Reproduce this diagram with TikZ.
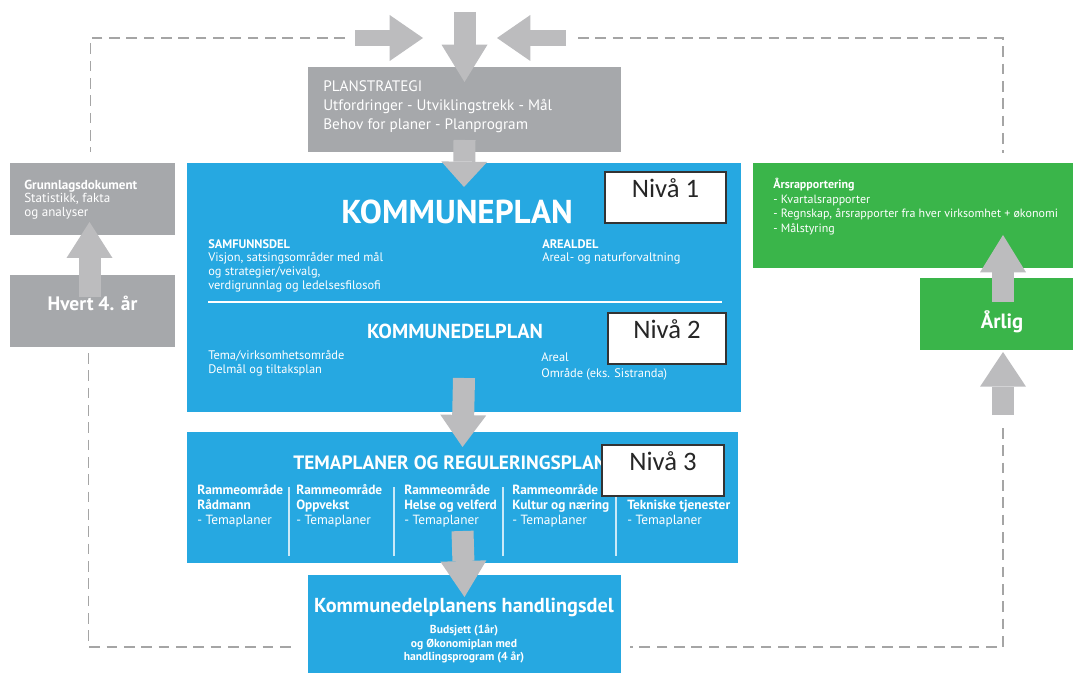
\documentclass[tikz,border=0pt]{standalone}
\usepackage{fontspec}
\setmainfont{PT Sans}
\newfontfamily\nivafont{Carlito}
\usepackage{tikz}
\usetikzlibrary{arrows.meta,calc,fit}
\definecolor{kblue}{RGB}{38,168,225}
\definecolor{kgray}{RGB}{166,168,171}
\definecolor{agray}{RGB}{188,188,190}
\definecolor{kgreen}{RGB}{58,181,74}
\definecolor{lgray}{RGB}{165,165,165}
\tikzset{
  blokk/.style={inner sep=0pt, outer sep=0pt},
  tekst/.style={inner sep=0pt, text=white, align=left, font=\fontsize{9.3}{10.3}\selectfont},
  niva/.style={draw=black!80, line width=1.1pt, fill=white, inner sep=0pt, text=black!85, font=\nivafont\fontsize{20}{22}\selectfont},
  garrow/.style={draw=agray, line width=16.5pt, -{Triangle[width=34.5pt 0 0, length=#1 0 0, line width=0pt 0 0]}},
  garrow/.default=26pt,
  tynnpil/.style={draw=agray, line width=12pt, -{Triangle[width=34.5pt 0 0, length=25pt 0 0, line width=0pt 0 0]}},
  retur/.style={draw=lgray, line width=1.1pt, dash pattern=on 8pt off 5pt},
}
\begin{document}
\begin{tikzpicture}[x=0.75pt,y=-0.75pt]
  \useasboundingbox (0,0) rectangle (1073,673);
  % bokser
  \node[blokk, fill=kgray, fit={(308,67) (621,152)}] (ps) {};
  \node[blokk, fill=kblue, fit={(187,163) (741,412)}] (kp) {};
  \node[blokk, fill=kblue, fit={(187,432) (738,563)}] (tp) {};
  \node[blokk, fill=kblue, fit={(308,575) (621,690)}] (hd) {};
  \node[blokk, fill=kgray, fit={(10,163) (175,235)}] (gd) {};
  \node[blokk, fill=kgray, fit={(10,275) (175,347)}, text=white, font=\bfseries\fontsize{14.6}{16}\selectfont] (h4) {Hvert 4. år};
  \node[blokk, fill=kgreen, fit={(753,163) (1090,268)}] (ar) {};
  \node[blokk, fill=kgreen, fit={(920,278) (1086,350)}] (arlig) {};

  % tekst
  \node[tekst, anchor=north west, font=\fontsize{11.4}{14.3}\selectfont] (ps-tekst) at (323,80) {PLANSTRATEGI\\Utfordringer - Utviklingstrekk - Mål\\Behov for planer - Planprogram};
  \node[tekst, anchor=north west, font=\fontsize{9.8}{10}\selectfont] (gd-tekst) at (24,180) {\textbf{Grunnlagsdokument}\\Statistikk, fakta\\og analyser};
  \node[tekst, anchor=north west, font=\fontsize{9}{11}\selectfont] (ar-tekst) at (773,178) {\textbf{Årsrapportering}\\- Kvartalsrapporter\\- Regnskap, årsrapporter fra hver virksomhet + økonomi\\- Målstyring};
  \node[tekst, font=\bfseries\fontsize{15.5}{17}\selectfont] (arlig-tekst) at (1002,322) {Årlig};

  \node[tekst, font=\bfseries\fontsize{24.8}{27}\selectfont] (kp-tittel) at (457,212) {KOMMUNEPLAN};
  \node[tekst, anchor=north west] (samf) at (208,239) {\textbf{SAMFUNNSDEL}\\Visjon, satsingsområder med mål\\og strategier/veivalg,\\verdigrunnlag og ledelsesfilosofi};
  \node[tekst, anchor=north west] (areal) at (542,239) {\textbf{AREALDEL}\\Areal- og naturforvaltning};
  \draw[white, line width=1.5pt] (208,302) -- (722,302);
  \node[tekst, font=\bfseries\fontsize{15.2}{17}\selectfont] (kdp-tittel) at (455,331) {KOMMUNEDELPLAN};
  \node[tekst, anchor=north west] (tema) at (208,350) {Tema/virksomhetsområde\\Delmål og tiltaksplan};
  \node[tekst, anchor=north west, font=\fontsize{9.3}{12.5}\selectfont] (omr) at (541,352) {Areal\\Område (eks. Sistranda)};

  \node[tekst, anchor=west, font=\bfseries\fontsize{14.5}{16}\selectfont] (tp-tittel) at (293,463) {TEMAPLANER OG REGULERINGSPLAN};
  \foreach \x/\navn in {197/Rådmann, 296/Oppvekst, 404/Helse og velferd, 512/Kultur og næring, 627/Tekniske tjenester}
    \node[tekst, anchor=north west, font=\fontsize{10}{11.25}\selectfont] (ramme-\x) at (\x,484) {\textbf{Rammeområde}\\\textbf{\navn}\\- Temaplaner};
  \foreach \x in {289,394,503,616}
    \draw[white!75!kblue, line width=0.8pt] (\x,487) -- (\x,556);

  \node[tekst, font=\bfseries\fontsize{15.2}{17}\selectfont] (hd-tittel) at (464,607) {Kommunedelplanens handlingsdel};
  \node[tekst, anchor=north, align=center, font=\bfseries\fontsize{8.7}{10}\selectfont] (hd-tekst) at (464,625) {Budsjett (1år)\\og Økonomiplan med\\handlingsprogram (4 år)};

  % piler
  \coordinate (inn-v) at (355,38);
  \coordinate (spiss-v) at (423,38);
  \coordinate (inn-h) at (566,38);
  \coordinate (spiss-h) at (497,38);
  \coordinate (inn-o) at (464.5,12);
  \draw[tynnpil] (inn-v) -- (spiss-v);
  \draw[tynnpil] (inn-h) -- (spiss-h);
  \draw[garrow=28pt] (inn-o) -- ($(ps.north)+(0,15)$);
  \draw[garrow=19pt] ($(ps.south)+(0,-12)$) -- ($(kp.north)+(0,24)$);
  \draw[garrow=24pt] ($(kp.south)+(0,-34)$) -- ($(tp.north)+(0,15)$);
  \draw[garrow=27pt] ($(tp.south)+(0,-32)$) -- ($(hd.north)+(0,22)$);
  \draw[garrow=27pt] ($(h4.north)+(-3,22)$) -- ($(gd.south)+(-3,-13)$);
  \draw[garrow=28pt] ($(arlig.north)+(0,24)$) -- ($(arlig.north |- ar.south)+(0,-33)$);
  \draw[garrow] ($(arlig.south)+(0,65)$) -- ($(arlig.south)+(0,2)$);

  % stiplet retur
  \coordinate (retur-vn) at (293,647);
  \coordinate (retur-hn) at (630,647);
  \draw[retur] ($(inn-v)+(-10,0)$) -| ($(gd.north)+(-2,-11)$);
  \draw[retur] ($(h4.south)+(-4,6)$) |- (retur-vn);
  \draw[retur] ($(inn-h)+(12,0)$) -| ($(arlig.north |- ar.north)+(0,-10)$);
  \draw[retur] ($(arlig.south)+(0,78)$) |- (retur-hn);

  % nivå
  \node[niva, fit={(605,172) (726,223)}] (niva1) {Nivå 1};
  \node[niva, fit={(608,313) (726,364)}] (niva2) {Nivå 2};
  \node[niva, fit={(602,445) (724,496)}] (niva3) {Nivå 3};
\end{tikzpicture}
\end{document}
